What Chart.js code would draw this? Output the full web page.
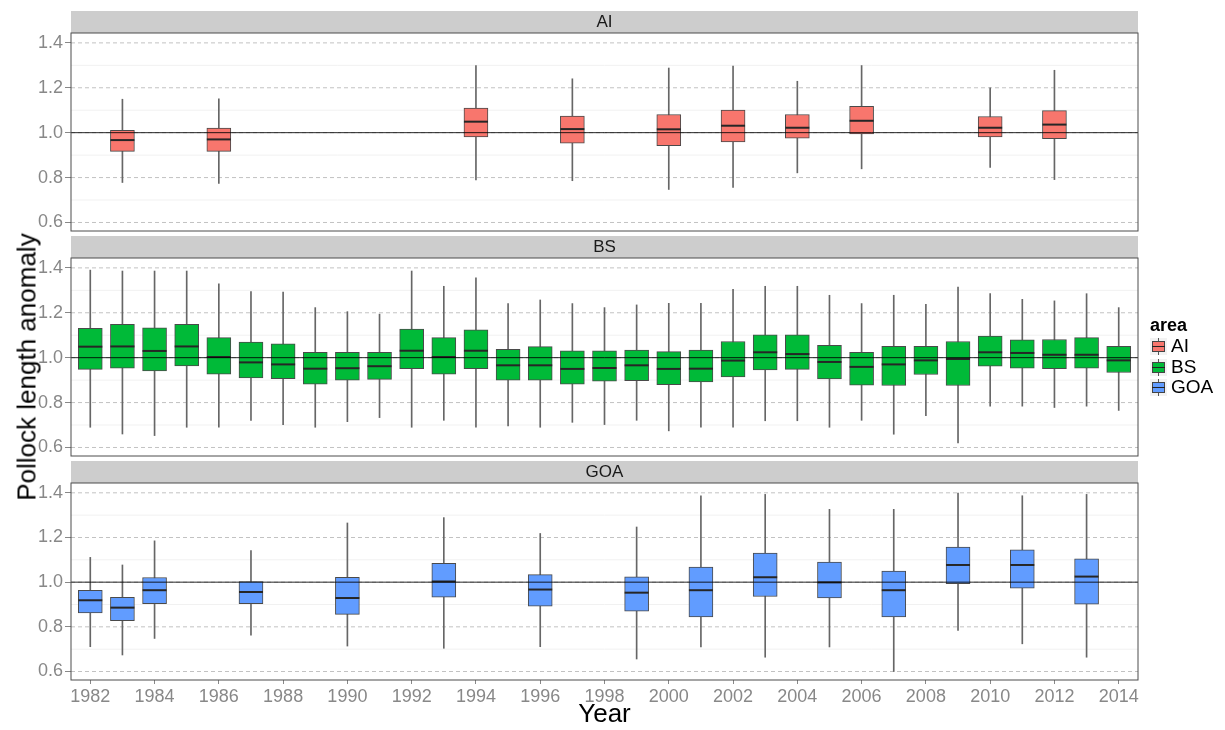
<!DOCTYPE html>
<html><head><meta charset="utf-8">
<script src="https://cdn.jsdelivr.net/npm/chart.js@4.4.1/dist/chart.umd.min.js"></script>
<style>
html,body{margin:0;padding:0;background:#fff;}
body{width:1225px;height:730px;position:relative;overflow:hidden;font-family:"Liberation Sans",Arial,sans-serif;}
canvas{position:absolute;left:0;}
#ytitle{position:absolute;left:27px;top:367px;transform:translate(-50%,-50%) rotate(-90deg);font-size:26px;white-space:nowrap;color:#000;}
#legend{position:absolute;left:1150px;top:314px;color:#000;}
#legend .lt{font-weight:bold;font-size:18px;height:22px;line-height:22px;}
#legend .it{height:20.5px;line-height:20.5px;font-size:19px;position:relative;padding-left:21px;}
#legend .key{position:absolute;left:0;top:2px;width:17px;height:17px;background:#f2f2f2;}
#legend .key .w{position:absolute;left:8px;top:0;width:1px;height:17px;background:#555;}
#legend .key .b{position:absolute;left:2px;top:3px;width:11px;height:9px;border:1px solid #444;}
#legend .key .m{position:absolute;left:2px;top:8px;width:13px;height:1px;background:#222;}
</style></head>
<body>
<canvas id="cAI" width="1225" height="234" style="top:11px"></canvas>
<canvas id="cBS" width="1225" height="234" style="top:236px"></canvas>
<canvas id="cGOA" width="1225" height="269" style="top:461px"></canvas>
<div id="ytitle">Pollock length anomaly</div>
<div id="legend">
  <div class="lt">area</div>
  <div class="it"><span class="key"><i class="w"></i><i class="b" style="background:#F8766D"></i><i class="m"></i></span>AI</div>
  <div class="it"><span class="key"><i class="w"></i><i class="b" style="background:#00BA38"></i><i class="m"></i></span>BS</div>
  <div class="it"><span class="key"><i class="w"></i><i class="b" style="background:#619CFF"></i><i class="m"></i></span>GOA</div>
</div>
<script>
// ---------- data ----------
const xTicks = [1982,1984,1986,1988,1990,1992,1994,1996,1998,2000,2002,2004,2006,2008,2010,2012,2014];
const yTicks = [0.6,0.7,0.8,0.9,1.0,1.1,1.2,1.3,1.4];

const aiYears = [1983,1986,1994,1997,2000,2002,2004,2006,2010,2012];
const aiLow   = [0.778,0.774,0.790,0.786,0.747,0.756,0.821,0.839,0.845,0.791];
const aiQ1    = [0.917,0.917,0.981,0.953,0.942,0.959,0.976,0.994,0.981,0.973];
const aiMed   = [0.967,0.970,1.049,1.016,1.015,1.031,1.022,1.053,1.022,1.036];
const aiQ3    = [1.010,1.021,1.109,1.074,1.081,1.101,1.081,1.117,1.072,1.098];
const aiHigh  = [1.149,1.151,1.299,1.240,1.288,1.297,1.229,1.299,1.200,1.278];

const bsYears = [1982,1983,1984,1985,1986,1987,1988,1989,1990,1991,1992,1993,1994,1995,1996,1997,1998,
                 1999,2000,2001,2002,2003,2004,2005,2006,2007,2008,2009,2010,2011,2012,2013,2014];
const bsLow  = [0.690,0.660,0.653,0.690,0.690,0.721,0.702,0.690,0.715,0.733,0.690,0.721,0.690,0.696,0.690,0.712,0.702,
                0.721,0.674,0.690,0.690,0.719,0.719,0.690,0.721,0.659,0.742,0.620,0.784,0.784,0.778,0.784,0.765];
const bsQ1   = [0.948,0.953,0.941,0.963,0.926,0.910,0.907,0.882,0.900,0.903,0.951,0.926,0.951,0.900,0.900,0.882,0.895,
                0.898,0.880,0.892,0.914,0.945,0.948,0.905,0.877,0.876,0.925,0.876,0.962,0.953,0.951,0.953,0.934];
const bsMed  = [1.049,1.050,1.030,1.050,1.003,0.979,0.970,0.951,0.953,0.962,1.031,1.003,1.031,0.966,0.966,0.950,0.954,
                0.966,0.950,0.951,0.987,1.024,1.016,0.981,0.959,0.970,0.988,0.994,1.024,1.021,1.013,1.013,0.988];
const bsQ3   = [1.131,1.148,1.133,1.148,1.089,1.069,1.062,1.024,1.024,1.024,1.127,1.089,1.124,1.037,1.049,1.030,1.030,
                1.034,1.027,1.034,1.072,1.102,1.102,1.055,1.024,1.050,1.050,1.072,1.096,1.080,1.081,1.089,1.050];
const bsHigh = [1.390,1.386,1.386,1.386,1.329,1.294,1.292,1.223,1.205,1.194,1.386,1.318,1.356,1.241,1.257,1.241,1.223,
                1.235,1.242,1.242,1.304,1.318,1.318,1.278,1.241,1.278,1.238,1.315,1.285,1.260,1.253,1.285,1.223];

const goaYears = [1982,1983,1984,1987,1990,1993,1996,1999,2001,2003,2005,2007,2009,2011,2013];
const goaLow  = [0.711,0.674,0.748,0.763,0.714,0.704,0.711,0.656,0.710,0.664,0.710,0.600,0.784,0.724,0.664];
const goaQ1   = [0.862,0.828,0.904,0.904,0.856,0.933,0.893,0.870,0.844,0.936,0.930,0.844,0.993,0.973,0.902];
const goaMed  = [0.919,0.886,0.964,0.956,0.929,1.003,0.967,0.953,0.964,1.022,0.999,0.964,1.077,1.077,1.025];
const goaQ3   = [0.963,0.932,1.021,1.003,1.022,1.084,1.034,1.024,1.068,1.130,1.090,1.050,1.157,1.145,1.105];
const goaHigh = [1.111,1.077,1.185,1.141,1.265,1.289,1.218,1.247,1.387,1.393,1.326,1.326,1.399,1.387,1.393];

// ---------- drawing ----------
const FAM = '"Liberation Sans", Arial, sans-serif';
Chart.defaults.font.family = FAM;
const isMajor = v => Math.round(v * 10) % 2 === 0;

const panelPlugin = {
  id: 'panel',
  beforeDatasetsDraw(chart) {
    const {ctx, chartArea: a, scales: {y}} = chart;
    ctx.save();
    ctx.fillStyle = '#cdcdcd';
    ctx.fillRect(a.left, a.top - 22, a.right - a.left, 22);
    ctx.fillStyle = '#1a1a1a';
    ctx.font = '17px ' + FAM;
    ctx.textAlign = 'center'; ctx.textBaseline = 'middle';
    ctx.fillText(chart.options.plugins.panel.label, (a.left + a.right) / 2, a.top - 10.5);
    ctx.lineWidth = 1;
    yTicks.forEach(v => {
      const py = y.getPixelForValue(v);
      ctx.beginPath();
      if (isMajor(v)) { ctx.strokeStyle = '#c2c2c2'; ctx.setLineDash([4, 3]); }
      else { ctx.strokeStyle = '#f1f1f1'; ctx.setLineDash([]); }
      ctx.moveTo(a.left, py); ctx.lineTo(a.right, py); ctx.stroke();
    });
    ctx.restore();
  },
  afterDatasetsDraw(chart) {
    const {ctx, chartArea: a, scales: {y}} = chart;
    ctx.save();
    const py = y.getPixelForValue(1.0);
    ctx.strokeStyle = 'rgba(0,0,0,0.85)'; ctx.lineWidth = 1;
    ctx.beginPath(); ctx.moveTo(a.left, py); ctx.lineTo(a.right, py); ctx.stroke();
    ctx.strokeStyle = '#4d4d4d';
    ctx.strokeRect(a.left, a.top, a.right - a.left, a.bottom - a.top);
    ctx.restore();
  }
};

function makePanel(id, label, color, years, low, q1, med, q3, high, showX) {
  const xScale = {
    type: 'linear', min: 1981.4, max: 2014.6, display: showX, offset: false,
    afterBuildTicks: s => { s.ticks = xTicks.map(v => ({value: v})); },
    ticks: { callback: v => String(v), color: '#888888', font: { size: 18 }, padding: 2, maxRotation: 0, autoSkip: false },
    grid: { drawOnChartArea: false, offset: false, tickLength: 4, tickColor: '#888888' },
    border: { display: false },
    title: { display: showX, text: 'Year', color: '#000', font: { size: 26 }, padding: { top: 0, bottom: 0 } }
  };
  if (showX) xScale.afterFit = s => { s.height = 50; };
  new Chart(document.getElementById(id), {
    type: 'bar',
    data: { datasets: [
      { label: 'whisker', data: years.map((yr, i) => ({x: yr, y: [low[i], high[i]]})),
        backgroundColor: '#666666', borderWidth: 0, barThickness: 1, grouped: false, order: 3 },
      { label: 'box', data: years.map((yr, i) => ({x: yr, y: [q1[i], q3[i]]})),
        backgroundColor: color, borderColor: '#4a4a4a', borderWidth: 1, borderSkipped: false,
        barThickness: 24, grouped: false, order: 2 },
      { type: 'line', label: 'median', data: years.map((yr, i) => ({x: yr, y: med[i]})),
        showLine: false, pointStyle: 'line', pointRadius: 12, pointHoverRadius: 12,
        pointBorderWidth: 2, pointBorderColor: '#262626', order: 1 }
    ]},
    options: {
      responsive: false, animation: false, events: [],
      layout: { padding: { top: 22, bottom: showX ? 0 : 14, left: 0, right: 87 } },
      plugins: { legend: { display: false }, tooltip: { enabled: false }, panel: { label } },
      scales: {
        x: xScale,
        y: {
          min: 0.562, max: 1.444,
          afterFit: s => { s.width = 71; },
          afterBuildTicks: s => { s.ticks = yTicks.map(v => ({value: v})); },
          ticks: { callback: v => isMajor(v) ? v.toFixed(1) : '', color: '#888888', font: { size: 18 }, padding: 2, autoSkip: false },
          grid: { drawOnChartArea: false, tickLength: 6, tickColor: c => isMajor(c.tick.value) ? '#888888' : 'rgba(0,0,0,0)' },
          border: { display: false }
        }
      }
    },
    plugins: [panelPlugin]
  });
}

makePanel('cAI', 'AI', '#F8766D', aiYears, aiLow, aiQ1, aiMed, aiQ3, aiHigh, false);
makePanel('cBS', 'BS', '#00BA38', bsYears, bsLow, bsQ1, bsMed, bsQ3, bsHigh, false);
makePanel('cGOA', 'GOA', '#619CFF', goaYears, goaLow, goaQ1, goaMed, goaQ3, goaHigh, true);
</script>
</body></html>
